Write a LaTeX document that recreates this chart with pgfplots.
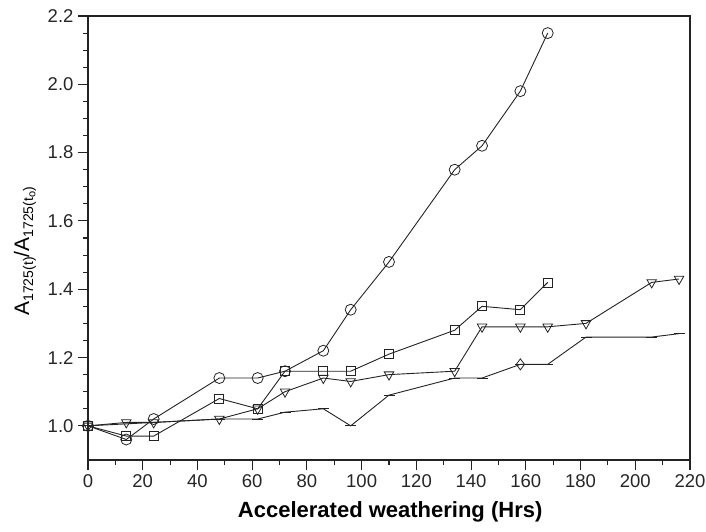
\documentclass[border=0pt]{standalone}
\usepackage{pgfplots}
\pgfplotsset{compat=1.18}
\usepackage{fontspec}
\setmainfont{Liberation Sans}
\usetikzlibrary{plotmarks}
\definecolor{ln}{RGB}{35,35,35}
\newcommand{\sub}[1]{\raisebox{-0.35ex}{\fontsize{14}{14}\selectfont #1}}
\newcommand{\subsub}[1]{\raisebox{-0.3ex}{\fontsize{11}{11}\selectfont #1}}
\begin{document}
\begin{tikzpicture}
\useasboundingbox (-88pt,-71pt) rectangle (618pt,460pt);
\begin{axis}[scale only axis,width=602pt,height=444pt,
  xmin=0,xmax=220,ymin=0.9,ymax=2.2,
  xtick={0,20,...,220},ytick={1.0,1.2,...,2.2},
  minor x tick num=1,minor y tick num=3,
  tick align=outside,tick pos=left,
  major tick length=10pt,minor tick length=5pt,
  every tick/.style={ln,line width=1.1pt},
  axis line style={ln,line width=1.3pt},
  /pgf/number format/assume math mode=true,
  tick label style={font=\fontsize{18.5}{20}\selectfont,text=black!85},
  xticklabel style={yshift=-1pt},
  yticklabel style={xshift=-1pt,/pgf/number format/.cd,fixed,fixed zerofill,precision=1},
  xlabel={\bfseries Accelerated weathering (Hrs)},
  xlabel style={font=\fontsize{22}{24}\selectfont,at={(axis description cs:0.502,0)},anchor=north,yshift=-38pt},
  ylabel={A\sub{1725(t)}/A\sub{1725(t\subsub{o})}},
  ylabel style={font=\fontsize{21}{24}\selectfont,at={(axis description cs:0,0.47)},anchor=center,yshift=63pt},
  every axis plot/.append style={ln,line width=0.9pt,mark options={solid,fill=white,line width=0.8pt}},
]
% circles
\addplot[mark=o,mark size=5.5pt] coordinates {(0,1.0) (14,0.96) (24,1.02) (48,1.14) (62,1.14) (72,1.16) (86,1.22) (96,1.34) (110,1.48) (134,1.75) (144,1.82) (158,1.98) (168,2.15)};
% squares
\addplot[mark=square,mark size=4.5pt] coordinates {(0,1.0) (14,0.97) (24,0.97) (48,1.08) (62,1.05) (72,1.16) (86,1.16) (96,1.16) (110,1.21) (134,1.28) (144,1.35) (158,1.34) (168,1.42)};
% down triangles
\addplot[mark=triangle,mark size=5.5pt,mark options={rotate=180,solid,fill=white,line width=0.8pt}] coordinates {(0,1.0) (14,1.01) (24,1.01) (48,1.02) (62,1.05) (72,1.10) (86,1.14) (96,1.13) (110,1.15) (134,1.16) (144,1.29) (158,1.29) (168,1.29) (182,1.30) (206,1.42) (216,1.43)};
% dashes
\addplot[mark=-,mark size=5.5pt] coordinates {(0,1.0) (24,1.01) (48,1.02) (62,1.02) (72,1.04) (86,1.05) (96,1.00) (110,1.09) (134,1.14) (144,1.14) (158,1.18) (168,1.18) (182,1.26) (206,1.26) (216,1.27)};
\addplot[only marks,mark=diamond,mark size=5.5pt] coordinates {(158,1.18)};
\end{axis}
\end{tikzpicture}
\end{document}
